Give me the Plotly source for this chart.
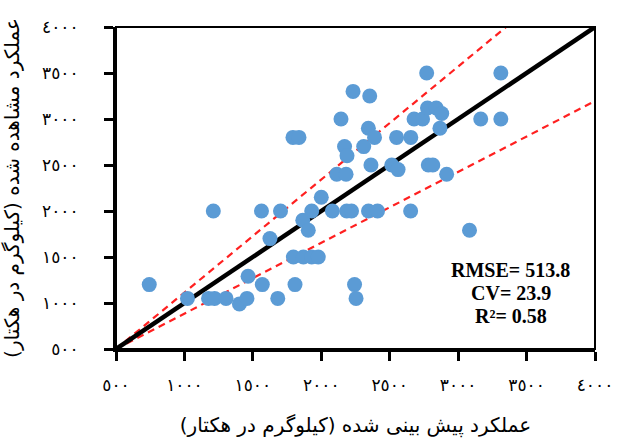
import plotly.graph_objects as go

# Predicted (x) and observed (y) yield, kg/ha
predicted = [743, 1022, 1176, 1220, 1304, 1402, 1457, 1465, 1211, 1563,
             1702, 1569, 1625, 1682, 1796, 1869, 1930, 1978, 1808, 1865,
             1905, 1930, 2000, 2081, 2186, 2221, 2243, 2254, 2345, 2411,
             2653, 3083, 2113, 2181, 1793, 1837, 2232, 2354, 2144, 2344,
             2389, 2170, 2188, 2310, 2363, 2515, 2561, 2550, 2654, 2678,
             2740, 2776, 2840, 2880, 2867, 2770, 3312, 3165, 3312, 2782,
             2815, 2916]
observed = [1200, 1050, 1050, 1050, 1050, 990, 1050, 1290, 2000, 2000,
            2000, 1200, 1700, 1050, 1500, 1500, 1500, 1500, 1200, 1900,
            1790, 2000, 2150, 2000, 2000, 2000, 1200, 1050, 2000, 2000,
            2000, 1790, 2400, 2400, 2800, 2800, 3300, 3250, 3000, 2900,
            2800, 2700, 2600, 2700, 2500, 2500, 2450, 2800, 2800, 3000,
            3000, 3120, 3120, 3060, 2900, 3500, 3500, 3000, 3000, 2500,
            2500, 2400]

axis_min = 500
axis_max = 4000
upper_slope = 1.228
lower_slope = 0.77

tick_values = [500, 1000, 1500, 2000, 2500, 3000, 3500, 4000]
tick_labels = ["٥٠٠", "١٠٠٠", "١٥٠٠", "٢٠٠٠", "٢٥٠٠", "٣٠٠٠", "٣٥٠٠", "٤٠٠٠"]

x_title = "عملکرد پیش بینی شده (کیلوگرم در هکتار)"
y_title = "عملکرد مشاهده شده (کیلوگرم در هکتار)"
stats_lines = ["RMSE= 513.8", "CV= 23.9", "R²= 0.58"]

line_x = [axis_min, axis_max]
upper_y = [axis_min + upper_slope * (v - axis_min) for v in line_x]
lower_y = [axis_min + lower_slope * (v - axis_min) for v in line_x]

fig = go.Figure()
fig.add_trace(go.Scatter(x=line_x, y=upper_y, mode="lines",
                         line=dict(color="#FF2020", width=2.2, dash="7px,5px"),
                         hoverinfo="skip"))
fig.add_trace(go.Scatter(x=line_x, y=lower_y, mode="lines",
                         line=dict(color="#FF2020", width=2.2, dash="7px,5px"),
                         hoverinfo="skip"))
fig.add_trace(go.Scatter(x=line_x, y=line_x, mode="lines",
                         line=dict(color="black", width=4.5), hoverinfo="skip"))
fig.add_trace(go.Scatter(x=predicted, y=observed, mode="markers",
                         marker=dict(color="#5B9BD5", size=15, line=dict(width=0))))

axis_common = dict(
    range=[axis_min, axis_max], tickmode="array", tickvals=tick_values,
    ticktext=tick_labels, showgrid=False, zeroline=False, automargin=False,
    showline=True, linecolor="black", linewidth=3,
    ticks="outside", ticklen=9, tickwidth=2.5, tickcolor="black",
    tickfont=dict(family="DejaVu Sans", size=17, color="black"),
)

title_font = dict(family="DejaVu Sans", size=20, color="black")

ann = []
for text, yp in zip(stats_lines, [0.2453, 0.1739, 0.1025]):
    ann.append(dict(text=text, xref="paper", yref="paper", x=0.8246, y=yp,
                    xanchor="center", yanchor="middle", showarrow=False,
                    font=dict(family="Liberation Serif", size=20, color="black",
                              weight="bold")))

fig.update_layout(
    template="none",
    width=617, height=439,
    margin=dict(l=116, r=22, t=27, b=90, autoexpand=False),
    paper_bgcolor="white", plot_bgcolor="white",
    showlegend=False,
    xaxis=dict(**axis_common, ticklabelstandoff=10,
               title=dict(text=x_title, font=title_font, standoff=24)),
    yaxis=dict(**axis_common, ticklabelstandoff=22,
               title=dict(text=y_title, font=title_font, standoff=19)),
    shapes=[dict(type="rect", xref="paper", yref="paper", x0=0, x1=1, y0=0, y1=1,
                 line=dict(color="black", width=2))],
    annotations=ann,
)

fig.write_html("out.html", config={"displayModeBar": False},
               post_script="document.body.style.margin='0';")
